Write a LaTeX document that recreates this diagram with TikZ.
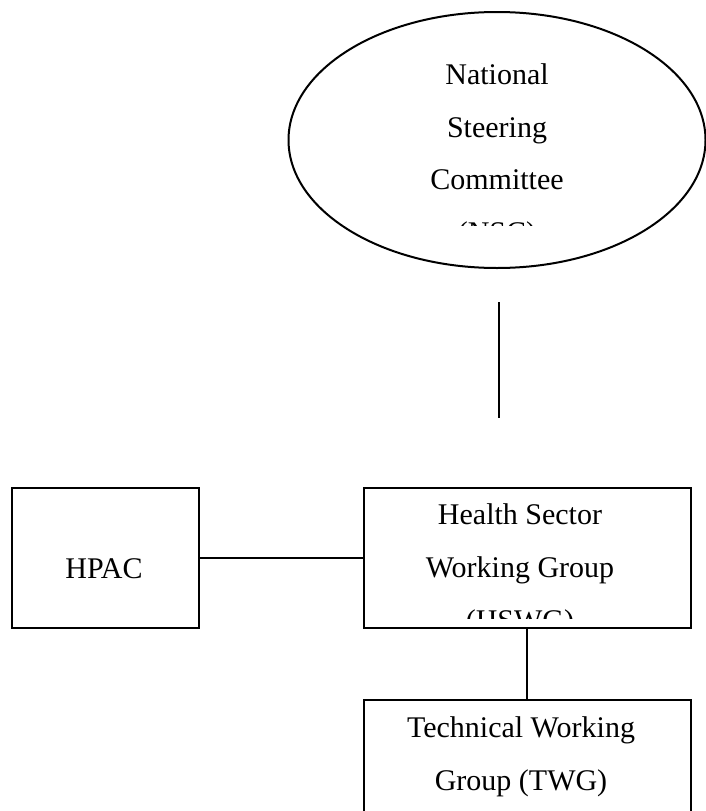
\documentclass[tikz,border=0pt]{standalone}
\usepackage{fontspec}
\setmainfont{Liberation Serif}
\usetikzlibrary{shapes.geometric}

\tikzset{
  orgbox/.style={draw, line width=1.5pt, inner sep=0pt},
  boxtext/.style={font=\fontsize{22.5}{39.4}\selectfont, align=center, anchor=base, inner sep=0pt},
  link/.style={line width=1.5pt}
}

\begin{document}
\begin{tikzpicture}[x=0.75pt,y=-0.75pt]
\clip (0,0) rectangle (706,811);

% outlines
\node[orgbox, ellipse, minimum width=312.75pt, minimum height=192pt] (nsc) at (497,140) {};
\node[orgbox, minimum width=140.25pt, minimum height=105pt] (hpac) at (105.5,558) {};
\node[orgbox, minimum width=245.25pt, minimum height=105pt] (hswg) at (527,558) {};
\node[orgbox, minimum width=245.25pt, minimum height=105pt] (twg) at (527,770) {};

% texts, cut off as in the original
\begin{scope}
\clip (288,0) rectangle (706,225);
\node[boxtext] (nsctext) at (497,242.5) {National\\Steering\\Committee\\(NSC)};
\end{scope}
\node[boxtext] (hpactext) at (104,578) {HPAC};
\begin{scope}
\clip (363,488) rectangle (690,618);
\node[boxtext] (hswgtext) at (520,630) {Health Sector\\Working Group\\(HSWG)};
\end{scope}
\node[boxtext] (twgtext) at (521,790) {Technical Working\\Group (TWG)};

\coordinate (nscstem) at (499,302);
\coordinate (hswgstem) at (499,418);
\draw[link] (nscstem) -- (hswgstem);
\draw[link] (hpac) -- (hswg);
\draw[link] (hswg) -- (twg);

\end{tikzpicture}
\end{document}
